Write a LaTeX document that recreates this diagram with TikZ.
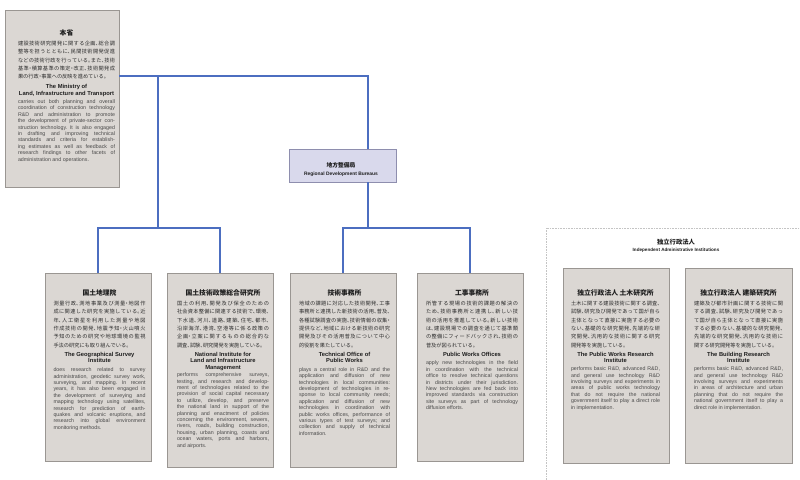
\documentclass[tikz,border=0pt]{standalone}
\usepackage{fontspec}
\setmainfont{Liberation Sans}
\newfontfamily\jp[RawFeature=+halt]{Noto Sans CJK JP}
\usetikzlibrary{shadows}
\XeTeXlinebreakskip=0pt plus 3pt
\definecolor{boxfill}{HTML}{DBD7D3}
\definecolor{boxline}{HTML}{9A9692}
\definecolor{shadowc}{HTML}{ABA7A3}
\definecolor{regfill}{HTML}{D9D9EC}
\definecolor{regline}{HTML}{8E8EAE}
\definecolor{connc}{HTML}{4C6EC0}
\definecolor{panelc}{HTML}{C4C4C4}
\definecolor{jpc}{HTML}{2E2E2E}
\definecolor{enc}{HTML}{4A4A4A}
\definecolor{titc}{HTML}{1E1E1E}
\newcommand\gapa{2.8pt}
\newcommand\gapb{2.6pt}
\newcommand\orgbody[4]{%
  \parindent=0pt \parskip=0pt \tolerance=10000 \hyphenpenalty=10000 \exhyphenpenalty=10000
  \leftskip=0pt \rightskip=0pt \spaceskip=0pt \xspaceskip=0pt \frenchspacing
  {\XeTeXlinebreaklocale "ja"\centering\color{titc}\jp\bfseries\fontsize{6.8}{8}\selectfont #1\par}%
  \vspace{1.4pt}%
  {\XeTeXlinebreaklocale "ja"\color{jpc}\jp\fontsize{5.2}{8.3}\selectfont #2\par}%
  \vspace{\gapa}%
  {\XeTeXlinebreaklocale ""\centering\color{titc}\bfseries\fontsize{5.8}{6.4}\selectfont #3\par}%
  \vspace{\gapb}%
  {\XeTeXlinebreaklocale ""\color{enc}\fontsize{5.3}{6.4}\selectfont #4\par}}
\tikzset{
  orgbox/.style={draw=boxline, fill=boxfill, line width=0.7pt, inner sep=0pt,
    drop shadow={shadow xshift=1.3pt, shadow yshift=-1.3pt, opacity=1, fill=shadowc}},
  regbox/.style={draw=regline, fill=regfill, line width=0.7pt, inner sep=0pt,
    drop shadow={shadow xshift=1.3pt, shadow yshift=-1.3pt, opacity=1, fill=shadowc}},
  txt/.style={anchor=north, inner sep=0pt, outer sep=0pt},
  lbl/.style={inner sep=0pt, outer sep=0pt},
  conn/.style={draw=connc, line width=1.8pt},
  panelline/.style={draw=panelc, line width=0.7pt, dash pattern=on 0.8pt off 0.8pt}
}
\begin{document}
\begin{tikzpicture}[x=1pt,y=-1pt]
\useasboundingbox (0,0) rectangle (800,479);
\fill[white] (0,0) rectangle (800,479);

% right panel
\draw[panelline] (546,480) -- (546,228) -- (801,228);
\node[lbl] (ph) at (676,242) {\color{titc}\jp\bfseries\fontsize{6.3}{7}\selectfont 独立行政法人};
\node[lbl] (pe) at (676,250.5) {\color{titc}\bfseries\fontsize{4.6}{5}\selectfont Independent Administrative Institutions};

% top-left box
\node[orgbox, minimum width=114pt, minimum height=177pt] (tl) at (62,98.5) {};
\node[txt, text width=97pt] (tlt) at (66.5,30) {\def\gapa{3.7pt}\def\gapb{1.8pt}\orgbody{本省}
{建設技術研究開発に関する企画、総合調\linebreak
整等を担うとともに、民間技術開発促進\linebreak
などの技術行政を行っている。また、技術\linebreak
基準・積算基準の策定・改正、技術開発成\linebreak
果の行政・事業への反映を進めている。}
{The Ministry of\par Land, Infrastructure and Transport}
{carries out both planning and overall\linebreak
coordination of construction technology\linebreak
R\&D and administration to promote\linebreak
the development of private-sector con-\linebreak
struction technology. It is also engaged\linebreak
in drafting and improving technical\linebreak
standards and criteria for establish-\linebreak
ing estimates as well as feedback of\linebreak
research findings to other facets of\linebreak
administration and operations.}};

% regional bureau
\node[regbox, minimum width=107pt, minimum height=33pt] (reg) at (342.5,165.5) {};
\node[lbl] (regj) at (341,165) {\color{titc}\jp\bfseries\fontsize{5.8}{7}\selectfont 地方整備局};
\node[lbl] (rege) at (341,174.5) {\color{titc}\bfseries\fontsize{4.9}{6}\selectfont Regional Development Bureaus};

% box 1
\node[orgbox, minimum width=106pt, minimum height=188pt] (b1) at (98,367) {};
\node[txt, text width=92pt] (b1t) at (99.5,290) {\orgbody{国土地理院}
{測量行政、測地事業及び測量・地図作\linebreak
成に関連した研究を実施している。近\linebreak
年、人工衛星を利用した測量や地図\linebreak
作成技術の開発、地震予知・火山噴火\linebreak
予知のための研究や地球環境の監視\linebreak
手法の研究にも取り組んでいる。}
{The Geographical Survey\par Institute}
{does research related to survey\linebreak
administration, geodetic survey work,\linebreak
surveying, and mapping. In recent\linebreak
years, it has also been engaged in\linebreak
the development of surveying and\linebreak
mapping technology using satellites,\linebreak
research for prediction of earth-\linebreak
quakes and volcanic eruptions, and\linebreak
research into global environment\linebreak
monitoring methods.}};

% box 2
\node[orgbox, minimum width=106pt, minimum height=194pt] (b2) at (220,370) {};
\node[txt, text width=92pt] (b2t) at (223,290) {\def\gapb{1.2pt}\orgbody{国土技術政策総合研究所}
{国土の利用、開発及び保全のための\linebreak
社会資本整備に関連する技術で、環境、\linebreak
下水道、河川、道路、建築、住宅、都市、\linebreak
沿岸海洋、港湾、空港等に係る政策の\linebreak
企画・立案に関するものの総合的な\linebreak
調査、試験、研究開発を実施している。}
{National Institute for\par Land and Infrastructure\par Management}
{performs comprehensive surveys,\linebreak
testing, and research and develop-\linebreak
ment of technologies related to the\linebreak
provision of social capital necessary\linebreak
to utilize, develop, and preserve\linebreak
the national land in support of the\linebreak
planning and enactment of policies\linebreak
concerning the environment, sewers,\linebreak
rivers, roads, building construction,\linebreak
housing, urban planning, coasts and\linebreak
ocean waters, ports and harbors,\linebreak
and airports.}};

% box 3
\node[orgbox, minimum width=106pt, minimum height=194pt] (b3) at (343,370) {};
\node[txt, text width=91pt] (b3t) at (344.5,290) {\def\gapb{2.2pt}\orgbody{技術事務所}
{地域の課題に対応した技術開発、工事\linebreak
事務所と連携した新技術の活用、普及、\linebreak
各種試験調査の実施、技術情報の収集・\linebreak
提供など、地域における新技術の研究\linebreak
開発及びその活用普及について中心\linebreak
的役割を果たしている。}
{Technical Office of\par Public Works}
{plays a central role in R\&D and the\linebreak
application and diffusion of new\linebreak
technologies in local communities:\linebreak
development of technologies in re-\linebreak
sponse to local community needs;\linebreak
application and diffusion of new\linebreak
technologies in coordination with\linebreak
public works offices, performance of\linebreak
various types of test surveys; and\linebreak
collection and supply of technical\linebreak
information.}};

% box 4
\node[orgbox, minimum width=106pt, minimum height=188pt] (b4) at (470,367) {};
\node[txt, text width=92pt] (b4t) at (472,290) {\def\gapb{2.2pt}\orgbody{工事事務所}
{所管する現場の技術的課題の解決の\linebreak
ため、技術事務所と連携し、新しい技\linebreak
術の活用を推進している。新しい技術\linebreak
は、建設現場での調査を通じて基準類\linebreak
の整備にフィードバックされ、技術の\linebreak
普及が図られている。}
{Public Works Offices}
{apply new technologies in the field\linebreak
in coordination with the technical\linebreak
office to resolve technical questions\linebreak
in districts under their jurisdiction.\linebreak
New technologies are fed back into\linebreak
improved standards via construction\linebreak
site surveys as part of technology\linebreak
diffusion efforts.}};

% box 5
\node[orgbox, minimum width=106pt, minimum height=195pt] (b5) at (616,365.5) {};
\node[txt, text width=89pt] (b5t) at (615.5,290) {\def\gapb{1.6pt}\orgbody{独立行政法人 土木研究所}
{土木に関する建設技術に関する調査、\linebreak
試験、研究及び開発であって国が自ら\linebreak
主体となって直接に実施する必要の\linebreak
ない、基礎的な研究開発、先端的な研\linebreak
究開発、汎用的な技術に関する研究\linebreak
開発等を実施している。}
{The Public Works Research\par Institute}
{performs basic R\&D, advanced R\&D,\linebreak
and general use technology R\&D\linebreak
involving surveys and experiments in\linebreak
areas of public works technology\linebreak
that do not require the national\linebreak
government itself to play a direct role\linebreak
in implementation.}};

% box 6
\node[orgbox, minimum width=107pt, minimum height=195pt] (b6) at (738.5,365.5) {};
\node[txt, text width=89pt] (b6t) at (738.5,290) {\def\gapb{1.6pt}\orgbody{独立行政法人 建築研究所}
{建築及び都市計画に関する技術に関\linebreak
する調査、試験、研究及び開発であっ\linebreak
て国が自ら主体となって直接に実施\linebreak
する必要のない、基礎的な研究開発、\linebreak
先端的な研究開発、汎用的な技術に\linebreak
関する研究開発等を実施している。}
{The Building Research\par Institute}
{performs basic R\&D, advanced R\&D,\linebreak
and general use technology R\&D\linebreak
involving surveys and experiments\linebreak
in areas of architecture and urban\linebreak
planning that do not require the\linebreak
national government itself to play a\linebreak
direct role in implementation.}};

% connectors
\coordinate (tj) at (158,76);
\coordinate (rj) at (368,76);
\coordinate (lj) at (158,228);
\coordinate (mj) at (368,228);
\draw[conn] (tl.east |- tj) -- (rj) -- (rj |- reg.north);
\draw[conn] (tj) -- (lj);
\draw[conn] (b1.north) -- (b1.north |- lj) -- (b2.north |- lj) -- (b2.north);
\draw[conn] (rj |- reg.south) -- (mj);
\draw[conn] (b3.north) -- (b3.north |- mj) -- (b4.north |- mj) -- (b4.north);
\end{tikzpicture}
\end{document}
